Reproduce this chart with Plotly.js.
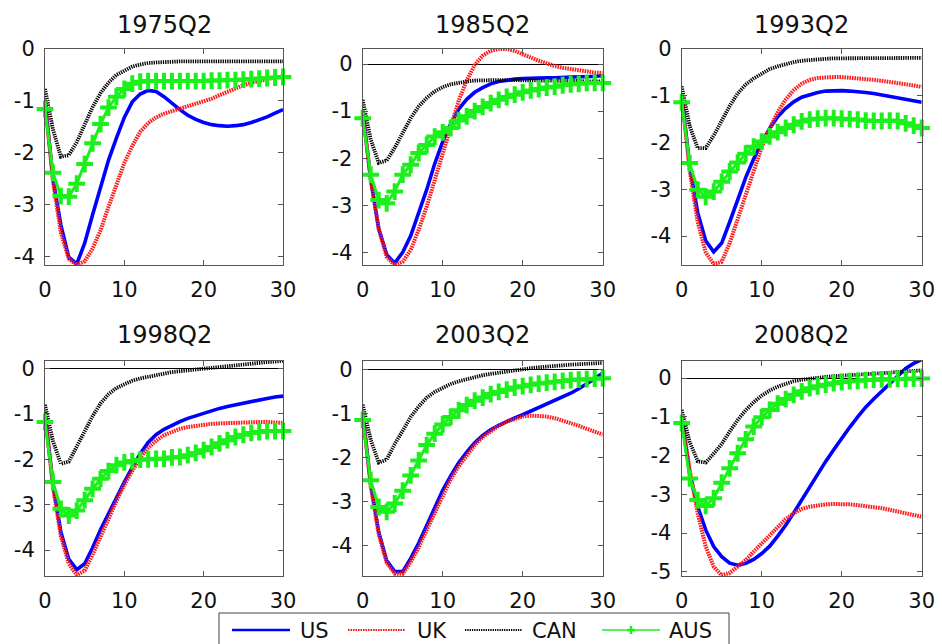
<!DOCTYPE html>
<html>
<head>
<meta charset="utf-8">
<script src="https://cdn.plot.ly/plotly-3.0.1.min.js"></script>
<style>
html,body{margin:0;padding:0;background:#fff;}
#chart{width:942px;height:644px;}
</style>
</head>
<body>
<div id="chart"></div>
<script>
// ---------------- DATA ----------------
const horizon = [0,1,2,3,4,5,6,7,8,9,10,11,12,13,14,15,16,17,18,19,20,21,22,23,24,25,26,27,28,29,30];
const seriesNames = ['US','UK','CAN','AUS'];
const panelTitles = ['1975Q2','1985Q2','1993Q2','1998Q2','2003Q2','2008Q2'];
const xTickVals = [0,10,20,30];
const xTickText = ['0','10','20','30'];
const yTickVals = [0,-1,-2,-3,-4];
const yTickText = ['0','-1','-2','-3','-4'];
const yTickVals2008 = [0,-1,-2,-3,-4,-5];
const yTickText2008 = ['0','-1','-2','-3','-4','-5'];

const us1975  = [-1.0,-2.5,-3.4,-4.02,-4.15,-3.75,-3.2,-2.65,-2.15,-1.72,-1.32,-1.02,-0.87,-0.8,-0.82,-0.92,-1.05,-1.17,-1.28,-1.36,-1.42,-1.46,-1.48,-1.49,-1.48,-1.46,-1.42,-1.37,-1.31,-1.24,-1.17];
const uk1975  = [-1.0,-2.55,-3.55,-4.05,-4.17,-4.1,-3.85,-3.5,-3.05,-2.6,-2.2,-1.87,-1.6,-1.43,-1.32,-1.25,-1.2,-1.16,-1.12,-1.07,-1.02,-0.96,-0.89,-0.82,-0.76,-0.7,-0.65,-0.61,-0.58,-0.55,-0.53];
const can1975 = [-0.77,-1.55,-2.08,-2.05,-1.8,-1.45,-1.12,-0.85,-0.65,-0.5,-0.41,-0.34,-0.3,-0.27,-0.26,-0.25,-0.25,-0.24,-0.24,-0.24,-0.24,-0.24,-0.24,-0.24,-0.24,-0.24,-0.24,-0.24,-0.24,-0.24,-0.24];
const aus1975 = [-1.16,-2.39,-2.84,-2.85,-2.6,-2.22,-1.82,-1.45,-1.13,-0.92,-0.77,-0.67,-0.63,-0.62,-0.62,-0.62,-0.62,-0.62,-0.62,-0.62,-0.62,-0.61,-0.61,-0.6,-0.6,-0.59,-0.58,-0.57,-0.56,-0.55,-0.54];

const us1985  = [-1.0,-2.45,-3.5,-4.05,-4.23,-4.0,-3.65,-3.17,-2.67,-2.12,-1.65,-1.27,-0.96,-0.75,-0.6,-0.5,-0.42,-0.37,-0.34,-0.32,-0.31,-0.3,-0.3,-0.29,-0.29,-0.28,-0.28,-0.27,-0.27,-0.26,-0.25];
const uk1985  = [-1.0,-2.45,-3.5,-4.1,-4.27,-4.2,-3.95,-3.52,-3.03,-2.45,-1.88,-1.3,-0.78,-0.35,-0.02,0.18,0.28,0.32,0.32,0.28,0.22,0.14,0.07,0.01,-0.04,-0.08,-0.11,-0.14,-0.16,-0.18,-0.19];
const can1985 = [-0.76,-1.6,-2.1,-2.05,-1.78,-1.47,-1.15,-0.9,-0.72,-0.58,-0.49,-0.43,-0.39,-0.37,-0.35,-0.34,-0.34,-0.34,-0.34,-0.34,-0.35,-0.35,-0.35,-0.35,-0.36,-0.36,-0.36,-0.36,-0.37,-0.37,-0.37];
const aus1985 = [-1.15,-2.35,-2.89,-2.96,-2.71,-2.35,-2.14,-1.89,-1.72,-1.54,-1.45,-1.36,-1.2,-1.11,-1.0,-0.91,-0.83,-0.76,-0.7,-0.65,-0.6,-0.56,-0.53,-0.5,-0.48,-0.45,-0.43,-0.42,-0.4,-0.4,-0.4];

const us1993  = [-1.0,-2.5,-3.5,-4.1,-4.34,-4.15,-3.7,-3.2,-2.75,-2.35,-2.0,-1.7,-1.45,-1.27,-1.13,-1.03,-0.97,-0.93,-0.9,-0.89,-0.89,-0.9,-0.91,-0.93,-0.95,-0.98,-1.01,-1.04,-1.07,-1.11,-1.14];
const uk1993  = [-1.0,-2.6,-3.7,-4.35,-4.6,-4.55,-4.15,-3.65,-3.1,-2.6,-2.1,-1.7,-1.35,-1.08,-0.88,-0.74,-0.66,-0.62,-0.6,-0.6,-0.6,-0.61,-0.62,-0.64,-0.66,-0.68,-0.7,-0.72,-0.75,-0.78,-0.81];
const can1993 = [-0.8,-1.65,-2.12,-2.12,-1.85,-1.53,-1.22,-0.95,-0.76,-0.63,-0.52,-0.43,-0.37,-0.32,-0.28,-0.25,-0.23,-0.22,-0.21,-0.2,-0.2,-0.2,-0.2,-0.2,-0.2,-0.2,-0.19,-0.19,-0.19,-0.19,-0.19];
const aus1993 = [-1.14,-2.44,-3.01,-3.16,-3.05,-2.84,-2.62,-2.43,-2.24,-2.09,-1.98,-1.87,-1.78,-1.69,-1.62,-1.55,-1.51,-1.49,-1.48,-1.48,-1.49,-1.5,-1.51,-1.53,-1.54,-1.54,-1.53,-1.54,-1.59,-1.64,-1.69];

const us1998  = [-1.0,-2.55,-3.6,-4.2,-4.43,-4.3,-3.95,-3.55,-3.2,-2.83,-2.5,-2.18,-1.88,-1.63,-1.46,-1.34,-1.25,-1.17,-1.1,-1.04,-0.98,-0.93,-0.88,-0.84,-0.8,-0.76,-0.73,-0.69,-0.66,-0.63,-0.61];
const uk1998  = [-1.0,-2.6,-3.7,-4.3,-4.55,-4.45,-4.1,-3.7,-3.3,-2.92,-2.56,-2.24,-1.96,-1.75,-1.59,-1.47,-1.39,-1.33,-1.29,-1.26,-1.24,-1.22,-1.21,-1.2,-1.19,-1.18,-1.18,-1.18,-1.18,-1.19,-1.2];
const can1998 = [-0.8,-1.6,-2.1,-2.05,-1.72,-1.38,-1.05,-0.77,-0.57,-0.43,-0.34,-0.27,-0.22,-0.18,-0.14,-0.11,-0.08,-0.06,-0.04,-0.02,0.0,0.02,0.04,0.06,0.08,0.09,0.11,0.12,0.14,0.15,0.17];
const aus1998 = [-1.18,-2.5,-3.09,-3.24,-3.13,-2.9,-2.65,-2.43,-2.26,-2.13,-2.07,-2.04,-2.01,-2.0,-1.99,-1.99,-1.96,-1.95,-1.91,-1.86,-1.8,-1.73,-1.65,-1.58,-1.51,-1.46,-1.42,-1.4,-1.38,-1.38,-1.38];

const us2003  = [-1.0,-2.6,-3.7,-4.35,-4.6,-4.6,-4.3,-3.95,-3.55,-3.15,-2.75,-2.42,-2.12,-1.88,-1.67,-1.5,-1.37,-1.27,-1.18,-1.1,-1.03,-0.95,-0.88,-0.8,-0.72,-0.63,-0.54,-0.44,-0.33,-0.21,-0.08];
const uk2003  = [-1.0,-2.65,-3.75,-4.4,-4.65,-4.65,-4.38,-4.05,-3.65,-3.25,-2.86,-2.5,-2.2,-1.95,-1.72,-1.54,-1.4,-1.28,-1.19,-1.12,-1.07,-1.05,-1.05,-1.07,-1.11,-1.16,-1.22,-1.28,-1.35,-1.42,-1.48];
const can2003 = [-0.8,-1.6,-2.12,-2.05,-1.7,-1.4,-1.08,-0.84,-0.64,-0.51,-0.41,-0.33,-0.27,-0.22,-0.17,-0.13,-0.1,-0.07,-0.04,-0.02,0.01,0.03,0.05,0.07,0.08,0.1,0.11,0.12,0.13,0.14,0.15];
const aus2003 = [-1.15,-2.52,-3.13,-3.24,-3.05,-2.76,-2.41,-2.07,-1.72,-1.46,-1.25,-1.08,-0.93,-0.81,-0.71,-0.64,-0.56,-0.51,-0.46,-0.41,-0.38,-0.35,-0.32,-0.3,-0.28,-0.26,-0.24,-0.23,-0.22,-0.21,-0.2];

const us2008  = [-1.0,-2.46,-3.32,-3.92,-4.35,-4.61,-4.78,-4.83,-4.78,-4.68,-4.53,-4.34,-4.08,-3.8,-3.48,-3.15,-2.8,-2.45,-2.15,-1.85,-1.55,-1.27,-1.0,-0.75,-0.54,-0.34,-0.14,0.07,0.25,0.38,0.48];
const uk2008  = [-1.0,-2.37,-3.49,-4.35,-4.87,-5.09,-5.03,-4.87,-4.7,-4.48,-4.27,-4.05,-3.84,-3.64,-3.49,-3.38,-3.32,-3.28,-3.26,-3.25,-3.25,-3.26,-3.28,-3.3,-3.33,-3.36,-3.4,-3.44,-3.49,-3.53,-3.58];
const can2008 = [-0.82,-1.65,-2.15,-2.18,-1.95,-1.7,-1.38,-1.08,-0.83,-0.62,-0.45,-0.32,-0.22,-0.14,-0.08,-0.04,-0.01,0.01,0.03,0.05,0.06,0.08,0.09,0.1,0.12,0.13,0.14,0.16,0.17,0.18,0.2];
const aus2008 = [-1.16,-2.59,-3.15,-3.3,-3.1,-2.7,-2.33,-1.94,-1.58,-1.25,-1.01,-0.82,-0.66,-0.54,-0.43,-0.34,-0.26,-0.21,-0.17,-0.13,-0.1,-0.08,-0.07,-0.05,-0.04,-0.03,-0.03,-0.02,-0.02,-0.01,-0.01];

// ---------------- BUILD ----------------
const W = 942, H = 644;
const px = v => v / W;
const py = v => 1 - v / H;

const panelSeries = [
  [us1975, uk1975, can1975, aus1975],
  [us1985, uk1985, can1985, aus1985],
  [us1993, uk1993, can1993, aus1993],
  [us1998, uk1998, can1998, aus1998],
  [us2003, uk2003, can2003, aus2003],
  [us2008, uk2008, can2008, aus2008]
];

const colX = [[45, 283], [362.7, 602.7], [681.7, 921.7]];
const rowY = [[49, 265], [360.7, 576]];
const yRanges = [[-4.17, 0], [-4.27, 0.32], [-4.62, 0], [-4.57, 0.17], [-4.7, 0.2], [-5.11, 0.45]];
const titleY = [25, 335];

const GREEN = '#1cf01c';
const styles = [
  {mode: 'lines', line: {color: '#0000ff', width: 3.6}},
  {mode: 'lines', line: {color: '#ff1a1a', width: 4, dash: '1.6px,0.9px'}},
  {mode: 'lines', line: {color: '#000000', width: 3.8, dash: '1.3px,1px'}},
  {mode: 'lines+markers', line: {color: GREEN, width: 3},
   marker: {symbol: 'cross-thin', size: 12, color: GREEN, line: {color: GREEN, width: 4}}}
];

const FONT = 'DejaVu Sans, Liberation Sans, Arial, sans-serif';
const traces = [];
const layout = {
  width: W, height: H,
  margin: {l: 0, r: 0, t: 0, b: 0},
  paper_bgcolor: '#ffffff', plot_bgcolor: '#ffffff',
  showlegend: false,
  font: {family: FONT, color: '#111', size: 20},
  annotations: [], shapes: []
};

panelSeries.forEach((set, p) => {
  const col = p % 3, row = Math.floor(p / 3);
  const ax = p === 0 ? '' : String(p + 1);
  set.forEach((vals, s) => {
    traces.push(Object.assign({
      type: 'scatter', x: horizon, y: vals, name: seriesNames[s],
      xaxis: 'x' + ax, yaxis: 'y' + ax, cliponaxis: false, hoverinfo: 'skip'
    }, JSON.parse(JSON.stringify(styles[s]))));
  });
  const isLast = p === 5;
  layout['xaxis' + ax] = {
    domain: [px(colX[col][0]), px(colX[col][1])], anchor: 'y' + ax,
    range: [0, 30], tickvals: xTickVals, ticktext: xTickText,
    ticks: 'inside', ticklen: 5, tickcolor: '#555', tickwidth: 1,
    showline: true, linecolor: '#555', linewidth: 1, mirror: 'ticks',
    showgrid: false, zeroline: false, ticklabelstandoff: 6,
    tickfont: {family: FONT, size: 21, color: '#111'}
  };
  layout['yaxis' + ax] = {
    domain: [py(rowY[row][1]), py(rowY[row][0])], anchor: 'x' + ax,
    range: yRanges[p],
    tickvals: isLast ? yTickVals2008 : yTickVals,
    ticktext: isLast ? yTickText2008 : yTickText,
    ticks: 'inside', ticklen: 5, tickcolor: '#555', tickwidth: 1,
    showline: true, linecolor: '#555', linewidth: 1, mirror: 'ticks',
    showgrid: false, zeroline: true, zerolinecolor: '#000', zerolinewidth: 1,
    ticklabelstandoff: 5,
    tickfont: {family: FONT, size: 21, color: '#111'}
  };
  layout.annotations.push({
    text: panelTitles[p], xref: 'paper', yref: 'paper',
    x: px((colX[col][0] + colX[col][1]) / 2), y: py(titleY[row]),
    xanchor: 'center', yanchor: 'middle', showarrow: false,
    font: {family: FONT, size: 24, color: '#111'}
  });
});

// Legend box (manual, to match the long sample lines)
layout.shapes.push({type: 'rect', xref: 'paper', yref: 'paper',
  x0: px(219), x1: px(729), y0: py(680), y1: py(613),
  line: {color: '#444', width: 1}, fillcolor: 'rgba(255,255,255,0)'});
const legY = 630;
const legLines = [[232, 290], [348, 405], [465, 522], [602, 660]];
const legText = [298, 415, 530, 667];
const legStyles = [
  {color: '#0000ff', width: 2.5},
  {color: '#ff1a1a', width: 2.2, dash: '1.6px,0.9px'},
  {color: '#000000', width: 2, dash: '1.3px,1px'},
  {color: GREEN, width: 1.5}
];
legLines.forEach((ln, i) => {
  layout.shapes.push({type: 'line', xref: 'paper', yref: 'paper',
    x0: px(ln[0]), x1: px(ln[1]), y0: py(legY), y1: py(legY), line: legStyles[i]});
  layout.annotations.push({text: seriesNames[i], xref: 'paper', yref: 'paper',
    x: px(legText[i]), y: py(legY + 1), xanchor: 'left', yanchor: 'middle',
    showarrow: false, font: {family: FONT, size: 21, color: '#111'}});
});
// '+' marker in the AUS legend sample
const mx = (legLines[3][0] + legLines[3][1]) / 2;
layout.shapes.push({type: 'line', xref: 'paper', yref: 'paper',
  x0: px(mx - 4), x1: px(mx + 4), y0: py(legY), y1: py(legY), line: {color: GREEN, width: 2.5}});
layout.shapes.push({type: 'line', xref: 'paper', yref: 'paper',
  x0: px(mx), x1: px(mx), y0: py(legY - 4), y1: py(legY + 4), line: {color: GREEN, width: 2.5}});

Plotly.newPlot('chart', traces, layout, {displayModeBar: false, staticPlot: true});
</script>
</body>
</html>
